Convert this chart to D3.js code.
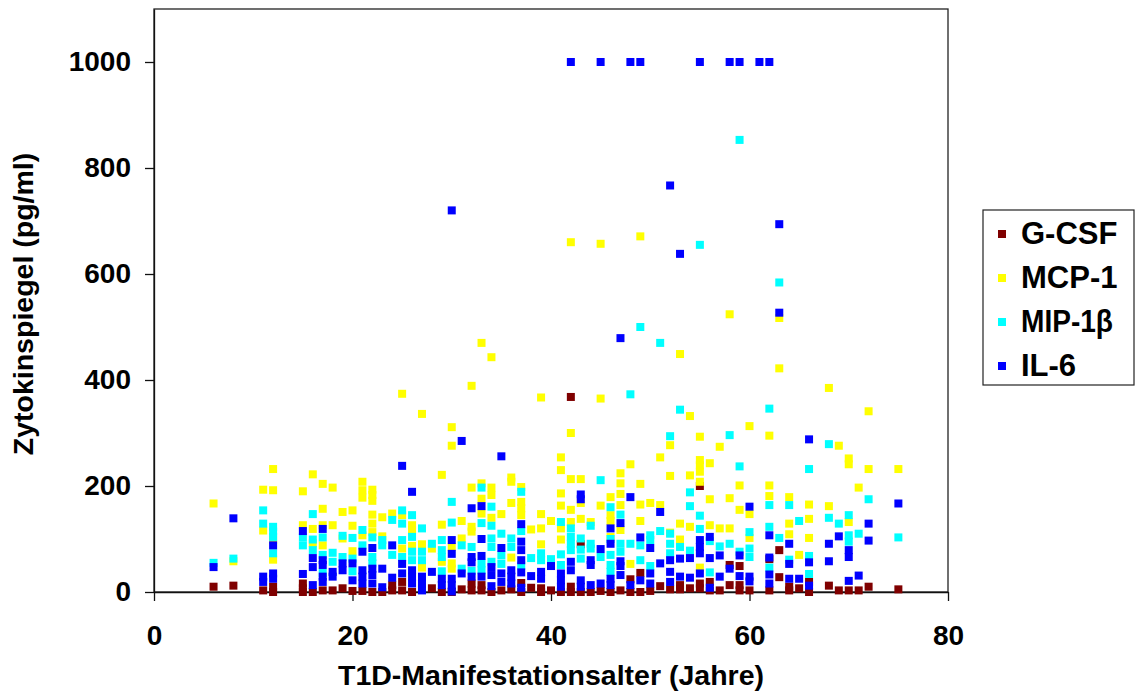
<!DOCTYPE html>
<html>
<head>
<meta charset="utf-8">
<script src="https://cdn.jsdelivr.net/npm/d3@7"></script>
<style>
  html, body { margin: 0; padding: 0; background: #fff; }
  svg { display: block; }
  text { font-family: "Liberation Sans", Arial, sans-serif; font-weight: bold; fill: #000; }
</style>
</head>
<body>
<svg width="1137" height="693"></svg>
<script>
const xTicks = [0, 20, 40, 60, 80]
const yTicks = [0, 200, 400, 600, 800, 1000]
const seriesNames = ['G-CSF', 'MCP-1', 'MIP-1β', 'IL-6']
const seriesColors = ['#7f0000', '#ffff00', '#00ffff', '#0000ff']

// [age, pg/ml]
const gcsf = [[6,10],[8,12],[11,3],[12,10],[12,0],[15,16],[15,7],[15,0],[16,0],[17,3],[18,3],[19,7],[20,2],[21,2],[22,0],[23,0],
  [24,13],[24,3],[25,19],[25,3],[26,0],[28,7],[29,0],[30,0],[31,5],[32,16],[32,3],[33,13],[33,3],[34,0],[35,3],[36,5],[37,17],[37,0],
  [38,8],[39,7],[39,0],[40,3],[41,0],[42,10],[42,0],[42,368],[43,90],[43,0],[44,0],[45,2],[46,0],[47,3],[48,24],[48,0],[49,36],[49,0],
  [50,2],[51,11],[52,5],[53,13],[53,5],[54,7],[55,200],[55,16],[55,7],[56,19],[56,3],[57,3],[58,51],[58,13],[59,49],[59,13],[59,3],
  [60,3],[62,62],[62,3],[63,79],[63,28],[64,10],[64,3],[65,7],[66,19],[66,0],[68,12],[69,3],[70,3],[71,3],[72,10],[75,5]]

const mcp1 = [[6,167],[8,58],[11,193],[11,116],[12,232],[12,192],[12,98],[12,61],[15,190],[15,126],[16,222],[16,119],[16,92],
  [17,204],[17,157],[17,126],[17,88],[18,197],[18,126],[19,151],[19,101],[20,154],[20,125],[20,77],[21,208],[21,192],[21,178],[21,107],
  [22,193],[22,183],[22,172],[22,146],[22,129],[22,113],[23,141],[23,105],[24,148],[25,374],[25,82],[25,145],[26,126],[26,117],[26,87],
  [27,336],[27,90],[27,46],[28,82],[29,221],[29,127],[29,57],[30,311],[30,276],[30,85],[30,54],[30,44],[31,134],[31,101],[32,389],[32,197],
  [32,123],[32,114],[33,470],[33,205],[33,176],[33,148],[34,443],[34,197],[34,183],[34,140],[35,147],[36,216],[36,208],[36,168],[36,65],
  [37,198],[37,170],[37,158],[37,145],[38,118],[39,367],[39,147],[39,120],[39,90],[40,134],[41,254],[41,230],[41,186],[41,163],[41,120],[41,99],
  [42,660],[42,300],[42,213],[42,155],[42,132],[43,213],[43,168],[43,138],[44,132],[45,657],[45,365],[45,163],[46,179],[46,145],[46,134],[46,104],
  [47,224],[47,205],[47,185],[47,164],[47,117],[48,241],[48,53],[49,671],[49,204],[49,165],[49,134],[50,168],[51,254],[51,164],
  [52,277],[52,219],[52,112],[53,449],[53,129],[53,99],[54,332],[54,220],[54,123],[55,293],[55,249],[55,239],[55,227],[55,208],[55,46],
  [56,243],[56,175],[56,126],[57,274],[57,120],[58,524],[58,177],[58,120],[59,201],[59,155],[60,313],[60,147],[60,102],[62,295],[62,201],[62,181],
  [63,517],[63,422],[64,179],[64,129],[64,109],[65,70],[66,165],[66,138],[66,102],[68,385],[68,162],[69,276],[70,252],[70,241],[70,132],
  [71,197],[72,341],[72,232],[75,232]]

const mip1b = [[6,55],[8,63],[11,154],[11,129],[12,123],[12,114],[12,104],[12,73],[15,103],[15,88],[16,147],[16,99],[16,79],[17,103],[17,70],[17,36],
  [18,74],[18,57],[19,106],[19,66],[20,102],[20,63],[20,39],[21,117],[21,88],[22,103],[22,66],[22,54],[23,98],[23,88],[24,136],[24,70],
  [25,154],[25,129],[25,98],[25,66],[26,145],[26,104],[26,76],[26,60],[27,120],[27,76],[27,60],[28,91],[29,98],[29,79],[29,66],[29,39],
  [30,170],[30,131],[31,88],[31,44],[32,85],[32,40],[33,197],[33,130],[33,54],[33,41],[34,161],[34,125],[34,101],[34,85],[34,57],
  [35,110],[35,69],[35,53],[36,101],[36,85],[37,189],[37,115],[37,50],[38,64],[39,73],[39,60],[40,62],[41,132],[41,71],[41,51],
  [42,120],[42,104],[42,91],[42,79],[43,101],[43,80],[43,63],[44,125],[44,91],[44,82],[45,211],[45,66],[46,160],[46,100],[46,70],[46,51],[46,38],
  [47,146],[47,91],[47,76],[48,373],[48,91],[49,500],[49,88],[49,60],[50,107],[50,98],[50,49],[51,470],[51,115],[52,294],[52,110],[52,91],[52,73],
  [53,344],[53,85],[54,188],[54,162],[54,78],[55,655],[55,144],[55,119],[56,96],[56,37],[57,86],[58,296],[58,91],[59,853],[59,237],[59,76],
  [60,113],[60,82],[60,66],[62,346],[62,164],[62,123],[62,46],[63,584],[63,102],[64,164],[64,61],[65,134],[66,232],[66,68],[66,34],[68,279],[68,140],
  [69,129],[70,145],[70,107],[70,95],[71,110],[72,175],[75,103]]

const il6 = [[6,47],[8,139],[11,29],[11,19],[12,88],[12,35],[12,25],[15,115],[15,34],[16,64],[16,47],[16,13],[17,119],[17,60],[17,51],[17,29],[17,19],
  [18,38],[18,29],[19,54],[19,41],[20,54],[20,22],[21,76],[21,41],[21,29],[21,16],[22,83],[22,44],[22,32],[22,16],[23,44],[23,9],[24,88],[24,27],
  [25,238],[25,53],[25,35],[26,189],[26,41],[26,29],[26,16],[27,29],[27,16],[27,3],[28,38],[29,25],[29,13],[30,720],[30,98],[30,72],[30,25],[30,13],[30,1],
  [31,285],[31,35],[32,158],[32,66],[32,56],[32,29],[33,162],[33,100],[33,68],[33,29],[34,47],[34,32],[34,11],[35,256],[35,83],[35,35],[35,19],
  [36,41],[36,29],[36,16],[37,128],[37,95],[37,79],[37,60],[37,37],[37,8],[38,30],[39,38],[39,25],[40,49],[41,35],[41,22],[41,10],
  [42,1000],[42,57],[42,41],[43,184],[43,175],[43,22],[43,10],[44,60],[44,51],[44,13],[45,1000],[45,81],[45,16],[46,120],[46,91],[46,25],[46,13],
  [47,479],[47,130],[47,58],[47,49],[47,32],[48,1000],[48,179],[48,13],[49,1000],[49,103],[49,22],[50,83],[50,35],[50,16],[51,151],[51,54],
  [52,767],[52,60],[52,38],[52,19],[53,638],[53,63],[53,29],[54,64],[54,27],[55,1000],[55,98],[55,85],[55,73],[55,35],[56,104],[56,64],[56,8],
  [57,69],[57,29],[58,1000],[58,44],[59,1000],[59,69],[59,30],[60,161],[60,29],[60,20],[61,1000],[62,1000],[62,107],[62,65],[62,33],[62,16],
  [63,694],[63,527],[64,91],[64,53],[64,25],[65,25],[66,288],[66,56],[66,12],[68,91],[68,58],[69,105],[70,79],[70,66],[70,21],[71,31],[72,129],[72,97],[75,167]]

const allSeries = [gcsf, mcp1, mip1b, il6]

const svg = d3.select('svg')
const margin = {top: 9, left: 154, bottom: 101, right: 189}
const width = +svg.attr('width')
const height = +svg.attr('height')
const innerWidth = width - margin.left - margin.right
const innerHeight = height - margin.top - margin.bottom

const xScale = d3.scaleLinear().domain([0, 80]).range([0, innerWidth])
const yScale = d3.scaleLinear().domain([0, 1100]).range([innerHeight, 0])

const g = svg.append('g').attr('transform', `translate(${margin.left},${margin.top})`)

// plot frame
g.append('rect')
  .attr('width', innerWidth)
  .attr('height', innerHeight)
  .attr('fill', 'none')
  .attr('stroke', '#222')
  .attr('stroke-width', 1.3)

const xAxis = d3.axisBottom(xScale).tickValues(xTicks).tickFormat(d3.format('d')).tickSizeInner(9).tickSizeOuter(0).tickPadding(24)
const yAxis = d3.axisLeft(yScale).tickValues(yTicks).tickFormat(d3.format('d')).tickSizeInner(9).tickSizeOuter(0).tickPadding(14)

const xAxisG = g.append('g').attr('transform', `translate(0,${innerHeight})`).call(xAxis)
const yAxisG = g.append('g').call(yAxis)

for (const axisG of [xAxisG, yAxisG]) {
  axisG.selectAll('path, line').attr('stroke', '#111').attr('stroke-width', 1.3)
  axisG.selectAll('text').style('font-size', '28px')
}

const markerSize = 8
allSeries.forEach((data, i) => {
  g.append('g').selectAll('rect')
    .data(data)
    .enter().append('rect')
    .attr('x', d => xScale(d[0]) - markerSize / 2)
    .attr('y', d => yScale(d[1]) - markerSize / 2)
    .attr('width', markerSize)
    .attr('height', markerSize)
    .attr('fill', seriesColors[i])
})

// axis titles
svg.append('text')
  .attr('x', 551)
  .attr('y', 685)
  .attr('text-anchor', 'middle')
  .style('font-size', '28.5px')
  .text('T1D-Manifestationsalter (Jahre)')

svg.append('text')
  .attr('transform', 'translate(33,304) rotate(-90)')
  .attr('text-anchor', 'middle')
  .style('font-size', '28.5px')
  .text('Zytokinspiegel (pg/ml)')

// legend
const legendG = svg.append('g').attr('transform', 'translate(983,210)')
legendG.append('rect')
  .attr('width', 151)
  .attr('height', 175)
  .attr('fill', '#fff')
  .attr('stroke', '#222')
  .attr('stroke-width', 1.2)

seriesNames.forEach((name, i) => {
  const rowY = 24 + i * 44
  legendG.append('rect')
    .attr('x', 15)
    .attr('y', rowY - markerSize / 2)
    .attr('width', markerSize)
    .attr('height', markerSize)
    .attr('fill', seriesColors[i])
  const label = legendG.append('text')
    .attr('x', 38)
    .attr('y', rowY + 10)
    .style('font-size', '31px')
    .text(name)
  // beta glyph is wider here than in the original font
  if (name.includes('β')) label.attr('textLength', 92).attr('lengthAdjust', 'spacingAndGlyphs')
})
</script>
</body>
</html>
